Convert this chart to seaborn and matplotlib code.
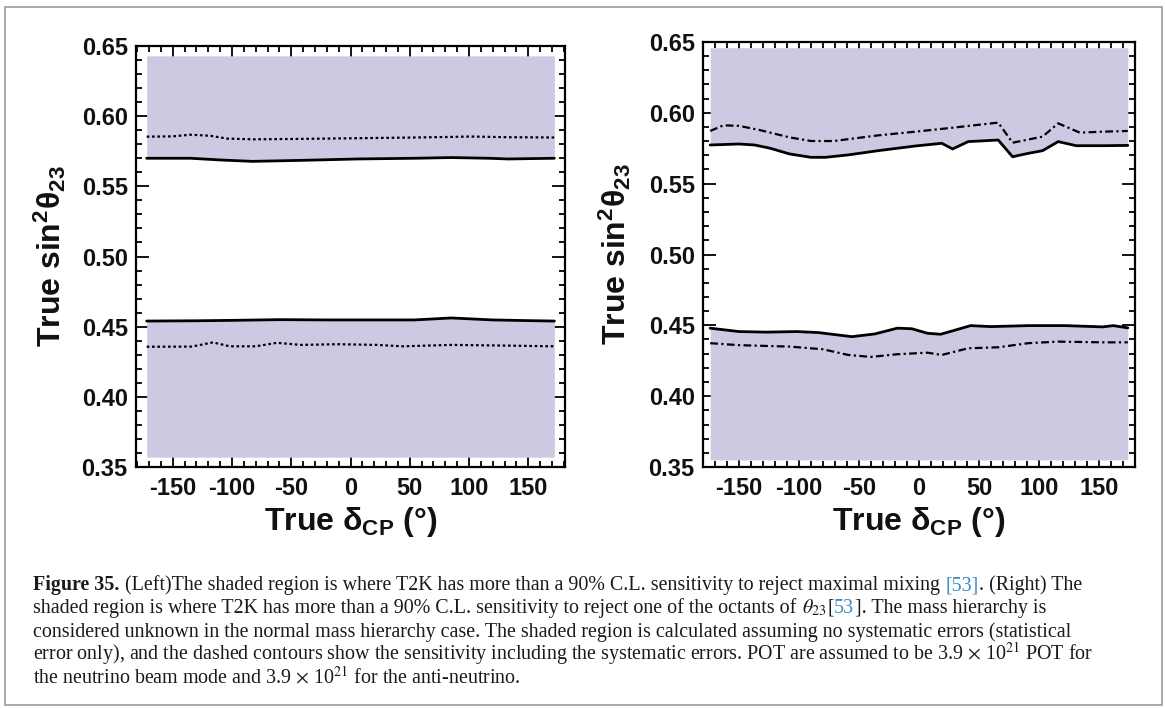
import matplotlib
matplotlib.use("Agg")
import matplotlib.pyplot as plt
import seaborn as sns
from matplotlib.ticker import MultipleLocator
from matplotlib.patches import Rectangle

# ---- data ----
# left panel: reject maximal mixing
L_up_sol_x = [-172, -135, -110, -83, -42, 6, 54, 85, 117, 133, 172]
L_up_sol_y = [0.5700, 0.5700, 0.5688, 0.5678, 0.5685, 0.5695, 0.5700, 0.5705, 0.5700, 0.5695, 0.5700]
L_up_dot_x = [-172, -150, -135, -118, -104, -82, -42, 6, 54, 85, 101, 133, 172]
L_up_dot_y = [0.5854, 0.5856, 0.5868, 0.5860, 0.5840, 0.5835, 0.5838, 0.5843, 0.5848, 0.5852, 0.5855, 0.5850, 0.5848]
L_lo_sol_x = [-172, -130, -100, -60, -20, 20, 54, 85, 120, 150, 172]
L_lo_sol_y = [0.4540, 0.4542, 0.4545, 0.4550, 0.4548, 0.4548, 0.4548, 0.4562, 0.4548, 0.4543, 0.4540]
L_lo_dot_x = [-172, -134, -116, -102, -80, -62, -42, -10, 22, 44, 85, 133, 172]
L_lo_dot_y = [0.4357, 0.4358, 0.4388, 0.4360, 0.4360, 0.4385, 0.4370, 0.4375, 0.4370, 0.4360, 0.4370, 0.4365, 0.4360]
L_band = (-172, 172, 0.357, 0.643)

# right panel: reject one of the octants
R_up_sol_x = [-174, -150, -137, -124, -108, -90, -78, -59, -34, -3, 19, 28, 41, 66, 78, 91, 103, 116, 131, 153, 174]
R_up_sol_y = [0.5773, 0.5780, 0.5773, 0.5750, 0.5710, 0.5686, 0.5686, 0.5703, 0.5733, 0.5766, 0.5785, 0.5745,
              0.5797, 0.5808, 0.5690, 0.5714, 0.5733, 0.5797, 0.5768, 0.5768, 0.5770]
R_up_dsh_x = [-174, -163, -150, -133, -108, -90, -71, -34, -3, 28, 66, 78, 103, 116, 134, 153, 174]
R_up_dsh_y = [0.5872, 0.5912, 0.5908, 0.5879, 0.5827, 0.5801, 0.5801, 0.5841, 0.5867, 0.5895, 0.5931, 0.5789,
              0.5832, 0.5926, 0.5860, 0.5867, 0.5872]
R_lo_sol_x = [-174, -150, -127, -102, -84, -56, -37, -18, -6, 7, 18, 28, 43, 60, 91, 122, 153, 162, 174]
R_lo_sol_y = [0.4480, 0.4456, 0.4452, 0.4456, 0.4449, 0.4420, 0.4439, 0.4480, 0.4476, 0.4444, 0.4437, 0.4461,
              0.4498, 0.4491, 0.4498, 0.4498, 0.4489, 0.4498, 0.4482]
R_lo_dsh_x = [-174, -150, -108, -80, -59, -40, -18, 7, 19, 41, 66, 91, 116, 153, 174]
R_lo_dsh_y = [0.4374, 0.4360, 0.4350, 0.4331, 0.4291, 0.4277, 0.4296, 0.4307, 0.4291, 0.4338, 0.4345, 0.4374,
              0.4385, 0.4380, 0.4380]
R_band = (-174, 174, 0.355, 0.646)

x_ticks = [-150, -100, -50, 0, 50, 100, 150]
y_ticks = [0.35, 0.40, 0.45, 0.50, 0.55, 0.60, 0.65]

W, H = 1165, 708
shade = "#cccae3"

sns.set_theme(style="ticks")
plt.rcParams["font.family"] = ["Liberation Sans", "DejaVu Sans"]
plt.rcParams["mathtext.fontset"] = "custom"
plt.rcParams["mathtext.rm"] = "Liberation Sans"
plt.rcParams["mathtext.bf"] = "Liberation Sans:bold"
plt.rcParams["mathtext.it"] = "Liberation Sans:italic"

fig = plt.figure(figsize=(W / 100, H / 100), dpi=100)


def px_axes(x0, y0, x1, y1):
    return fig.add_axes([x0 / W, 1 - y1 / H, (x1 - x0) / W, (y1 - y0) / H])


def panel(ax, band, up_sol, up_dsh, lo_sol, lo_dsh, dash, xlim):
    xa, xb, ylo, yhi = band
    # shaded regions bounded by the solid contours
    ax.fill_between(up_sol[0], up_sol[1], yhi, color=shade, lw=0)
    ax.fill_between(lo_sol[0], ylo, lo_sol[1], color=shade, lw=0)
    for xs, ys in (up_sol, lo_sol):
        sns.lineplot(x=xs, y=ys, ax=ax, color="black", lw=2.0, sort=False, estimator=None)
    for xs, ys in (up_dsh, lo_dsh):
        sns.lineplot(x=xs, y=ys, ax=ax, color="black", lw=1.6, sort=False, estimator=None, dashes=False,
                     linestyle=(0, dash))
    ax.set_xlim(*xlim)
    ax.set_ylim(0.35, 0.65)
    ax.set_xticks(x_ticks)
    ax.set_yticks(y_ticks)
    ax.set_xticklabels([str(v) for v in x_ticks])
    ax.set_yticklabels([f"{v:.2f}" for v in y_ticks])
    ax.xaxis.set_minor_locator(MultipleLocator(10))
    ax.yaxis.set_minor_locator(MultipleLocator(0.01))
    ax.tick_params(which="both", direction="in", top=True, right=True, color="black", width=1.3)
    ax.tick_params(which="major", length=9.5)
    ax.tick_params(which="minor", length=4.5)
    ax.tick_params(axis="y", which="major", pad=6, labelsize=17, labelcolor="#111111")
    ax.tick_params(axis="x", which="major", pad=7, labelsize=17, labelcolor="#111111")
    for lab in ax.get_xticklabels() + ax.get_yticklabels():
        lab.set_fontweight("bold")
    for sp in ax.spines.values():
        sp.set_color("black")
        sp.set_linewidth(1.6)
    ax.set_xlabel(r"True δ$_{\mathbf{CP}}$ (°)", fontsize=23, fontweight="bold", color="#111111")
    ax.set_ylabel(r"True sin$^{\mathbf{2}}$θ$_{\mathbf{23}}$", fontsize=23, fontweight="bold",
                  color="#111111")
    ax.xaxis.label.set_va("center")
    ax.yaxis.label.set_va("center")


axL = px_axes(136, 46, 565, 467)
panel(axL, L_band, (L_up_sol_x, L_up_sol_y), (L_up_dot_x, L_up_dot_y),
      (L_lo_sol_x, L_lo_sol_y), (L_lo_dot_x, L_lo_dot_y), (1.2, 1.2), (-181, 181))
axL.xaxis.set_label_coords(0.5, -(522 - 467) / 421)
axL.yaxis.set_label_coords(-(136 - 50) / 429, 0.5)

axR = px_axes(703, 42, 1135, 467)
panel(axR, R_band, (R_up_sol_x, R_up_sol_y), (R_up_dsh_x, R_up_dsh_y),
      (R_lo_sol_x, R_lo_sol_y), (R_lo_dsh_x, R_lo_dsh_y), (3.5, 1.5, 1.0, 1.5), (-180, 180))
axR.xaxis.set_label_coords(0.5, -(522 - 467) / 425)
axR.yaxis.set_label_coords(-(703 - 615) / 432, 0.5)

# page frame
fig.patches.append(Rectangle((5 / W, 1 - 705 / H), (1162 - 5) / W, (705 - 7) / H, transform=fig.transFigure,
                             fill=False, edgecolor="#9a9a9a", lw=1.2))

# caption, built from pieces so that bold/blue/math parts line up
cap_size = 14.4
normal = dict(family=["Liberation Serif", "DejaVu Serif"], color="#1a1a1a", math_fontfamily="stix")
bold = dict(normal, fontweight="bold")
blue = dict(normal, color="#3b8cc4")
SP = None
caption = [
    [("Figure 35.", bold), SP, ("(Left)The shaded region is where T2K has more than a 90% C.L. sensitivity to "
                                "reject maximal mixing", normal), SP, ("[53]", blue), (". (Right) The", normal)],
    [("shaded region is where T2K has more than a 90% C.L. sensitivity to reject one of the octants of", normal),
     SP, (r"$\theta_{23}$", normal), ("[", normal), ("53", blue), ("]. The mass hierarchy is", normal)],
    [("considered unknown in the normal mass hierarchy case. The shaded region is calculated assuming no "
      "systematic errors (statistical", normal)],
    [("error only), and the dashed contours show the sensitivity including the systematic errors. POT are "
      r"assumed to be 3.9 $\times$ 10$^{21}$ POT for", normal)],
    [(r"the neutrino beam mode and 3.9 $\times$ 10$^{21}$ for the anti-neutrino.", normal)],
]
baselines = [590, 613, 637, 660, 683]

renderer = fig.canvas.get_renderer()
probe1 = fig.text(0, 0, "a a", fontsize=cap_size, **normal)
probe2 = fig.text(0, 0, "aa", fontsize=cap_size, **normal)
space_w = probe1.get_window_extent(renderer).width - probe2.get_window_extent(renderer).width
probe1.remove()
probe2.remove()

for segs, yb in zip(caption, baselines):
    x = 33.0
    for seg in segs:
        if seg is SP:
            x += space_w
            continue
        s, kw = seg
        t = fig.text(x / W, 1 - yb / H, s, fontsize=cap_size, ha="left", va="baseline", **kw)
        x += t.get_window_extent(renderer).width + 0.5

fig.savefig("out.png", dpi=100)
